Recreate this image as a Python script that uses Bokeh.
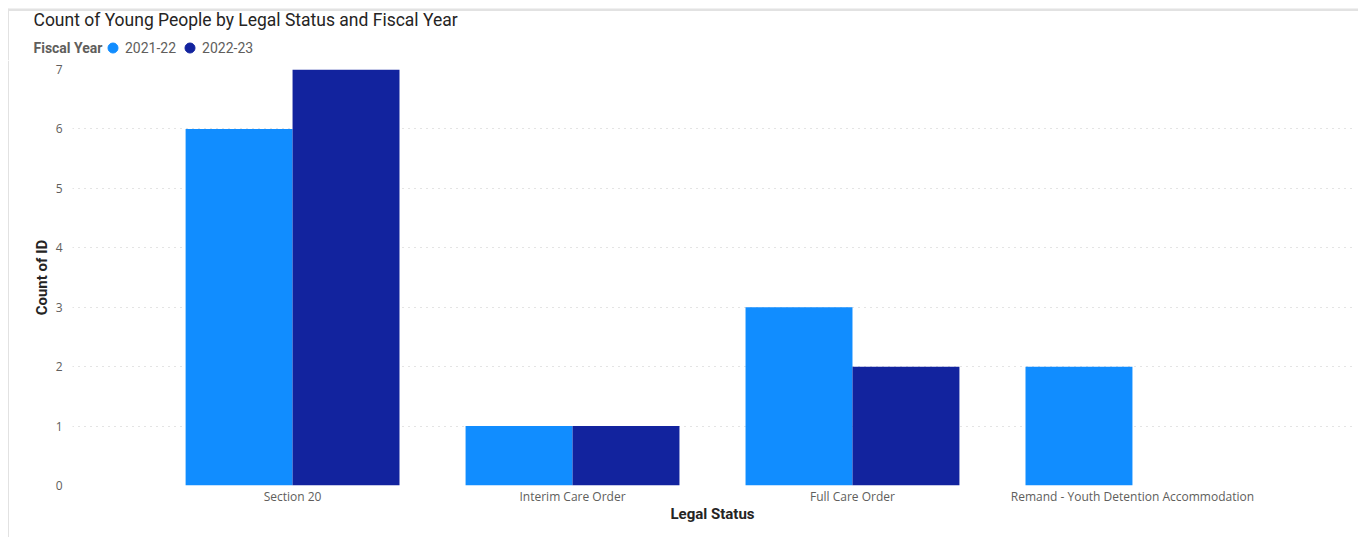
from bokeh.plotting import figure
from bokeh.layouts import column, row
from bokeh.models import (FactorRange, Range1d, ColumnDataSource, Legend,
                          LegendItem, SingleIntervalTicker, Label, BoxAnnotation)
from bokeh.transform import dodge
from bokeh.embed import file_html
from bokeh.resources import INLINE

categories = ["Section 20", "Interim Care Order", "Full Care Order",
              "Remand - Youth Detention Accommodation"]
years = ["2021-22", "2022-23"]
count_2021_22 = [6, 1, 3, 2]
count_2022_23 = [7, 1, 2, 0]
colors = ["#118DFF", "#12239E"]

title_text = "Count of Young People by Legal Status and Fiscal Year"
legend_title = "Fiscal Year"
x_label = "Legal Status"
y_label = "Count of ID"

W = 1358
H = 537
HEAD_H = 60
STRIP_W = 9
BORDER = "#e2e2e2"

# ---- header (title + legend) ----
h = figure(width=W, height=HEAD_H, x_range=Range1d(0, W),
           y_range=Range1d(HEAD_H, 0), x_axis_type=None, y_axis_type=None,
           min_border=0, output_backend="svg", toolbar_location=None)
h.outline_line_color = None
h.xgrid.grid_line_color = None
h.ygrid.grid_line_color = None

h.add_layout(BoxAnnotation(left=8, right=W, top=8, bottom=10.5,
                           fill_color=BORDER, fill_alpha=1, line_color=None))
h.add_layout(BoxAnnotation(left=7.5, right=8.5, top=8, bottom=HEAD_H,
                           fill_color=BORDER, fill_alpha=1, line_color=None))
h.add_layout(Label(x=33, y=19, text=title_text, text_font="Roboto",
                   text_font_size="17.5px", text_color="#252423",
                   text_baseline="middle"))
h.add_layout(Label(x=33, y=47, text=legend_title, text_font="Roboto",
                   text_font_style="bold", text_font_size="14px",
                   text_color="#605E5C", text_baseline="middle"))

nan = float("nan")
d1 = h.scatter([nan], [nan], marker="circle", size=10, color=colors[0])
d2 = h.scatter([nan], [nan], marker="circle", size=10, color=colors[1])
legend = Legend(items=[LegendItem(label=years[0], renderers=[d1]),
                       LegendItem(label=years[1], renderers=[d2])],
                orientation="horizontal", location=(100, 0),
                label_text_font="Roboto", label_text_font_size="14px",
                label_text_color="#605E5C", glyph_width=25, glyph_height=25,
                label_standoff=0, spacing=1, padding=0, margin=0,
                border_line_color=None, background_fill_alpha=0)
h.add_layout(legend, "center")

# ---- thin left border strip ----
s = figure(width=STRIP_W, height=H - HEAD_H, x_range=Range1d(0, STRIP_W),
           y_range=Range1d(0, H - HEAD_H), x_axis_type=None, y_axis_type=None,
           min_border=0, output_backend="svg", toolbar_location=None)
s.outline_line_color = None
s.xgrid.grid_line_color = None
s.ygrid.grid_line_color = None
s.add_layout(BoxAnnotation(left=7.5, right=8.5, fill_color=BORDER,
                           fill_alpha=1, line_color=None))

# ---- main chart ----
src = ColumnDataSource(dict(cat=categories, a=count_2021_22, b=count_2022_23))

p = figure(width=W - STRIP_W, height=H - HEAD_H,
           x_range=FactorRange(*categories, range_padding=0.286,
                               range_padding_units="absolute"),
           y_range=Range1d(0, 7),
           min_border_left=72 - STRIP_W, min_border_right=6,
           min_border_top=9, min_border_bottom=52,
           output_backend="svg", toolbar_location=None)

bw = 0.382
p.vbar(x=dodge("cat", -bw / 2, range=p.x_range), top="a", width=bw,
       source=src, fill_color=colors[0], line_color=None)
p.vbar(x=dodge("cat", bw / 2, range=p.x_range), top="b", width=bw,
       source=src, fill_color=colors[1], line_color=None)

p.outline_line_color = None
p.xgrid.grid_line_color = None
p.ygrid.grid_line_color = "#c8c8c8"
p.ygrid.grid_line_dash = "1 5"
p.ygrid.grid_line_width = 1

p.yaxis.ticker = SingleIntervalTicker(interval=1)
for ax in (p.xaxis[0], p.yaxis[0]):
    ax.axis_line_color = None
    ax.major_tick_line_color = None
    ax.minor_tick_line_color = None
    ax.major_tick_out = 0
    ax.minor_tick_out = 0
    ax.major_label_text_color = "#605E5C"
    ax.major_label_text_font = "Open Sans"
    ax.major_label_text_font_size = "12px"
    ax.axis_label_text_font = "Roboto"
    ax.axis_label_text_font_style = "bold"
    ax.axis_label_text_font_size = "15px"
    ax.axis_label_text_color = "#252423"

p.yaxis.axis_label = y_label
p.yaxis.major_label_standoff = 10
p.yaxis.axis_label_standoff = 2
p.xaxis.axis_label = x_label
p.xaxis.major_label_standoff = 2
p.xaxis.axis_label_standoff = -3

layout = column(row(h), row(column(s), p, spacing=0), spacing=0)
out = file_html(layout, INLINE)
open("out.html", "w").write(out)
